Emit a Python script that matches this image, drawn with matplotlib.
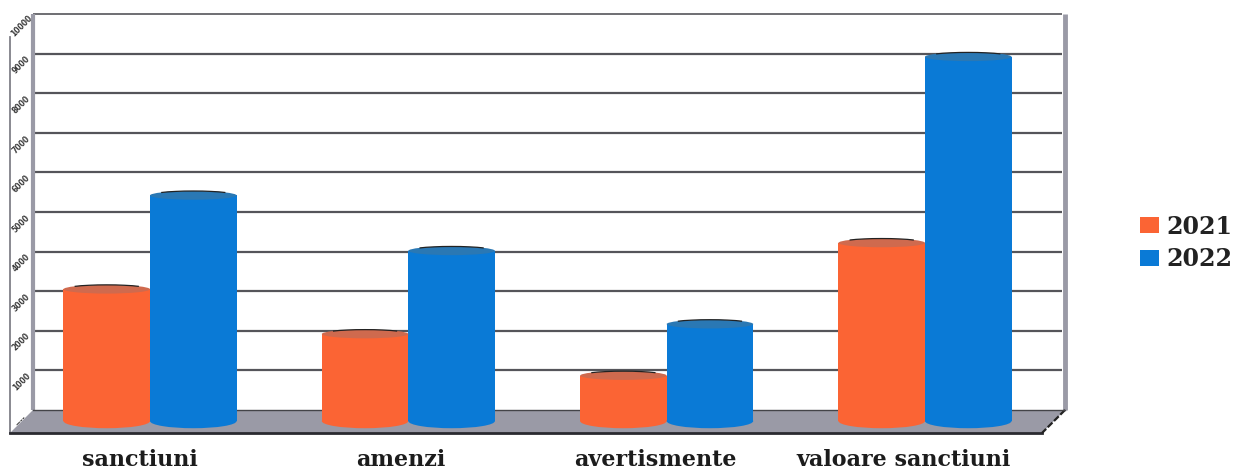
import matplotlib
matplotlib.use('Agg')
import matplotlib.pyplot as plt
from matplotlib.patches import Ellipse, Polygon, Patch, Arc

# Data
categories = ['sanctiuni', 'amenzi', 'avertismente', 'valoare sanctiuni']
years = ['2021', '2022']
vals_2021 = [3.33, 2.2, 1.15, 4.5]
vals_2022 = [5.7, 4.3, 2.45, 9.2]
ticks = list(range(0, 11))
tick_labels = ['', '1000', '2000', '3000', '4000', '5000', '6000', '7000', '8000', '9000', '10000']

col_2021 = '#FB6434'
col_2022 = '#0A7AD6'
top_2021 = '#CF6A4E'
top_2022 = '#2A78B4'
grid_col = '#55555A'
wall_col = '#9A9AA6'

W, H = 1238, 473
fig = plt.figure(figsize=(W/100, H/100), dpi=100)
# axes is the back wall of the fake 3d box
left, right, top, bot = 33, 1065, 14, 410
ax = fig.add_axes([left/W, 1-bot/H, (right-left)/W, (bot-top)/H])
ax.set_xlim(-0.453, 3.542)
ax.set_ylim(0, 10)
ax.axis('off')

# depth of the box in data units
dx = -23/258.3
dy = -23/39.6

# gridlines
for t in ticks[1:]:
    lw = 1.2 if t == 10 else 1.6
    ax.plot([-0.453, 3.53], [t, t], color=grid_col, lw=lw, zorder=1, solid_capstyle='butt', clip_on=False)

# walls
ax.plot([-0.453, -0.453], [0, 10], color=wall_col, lw=3, clip_on=False, zorder=2, solid_capstyle='butt')
ax.plot([3.542, 3.542], [0, 10], color=wall_col, lw=3.5, clip_on=False, zorder=2, solid_capstyle='butt')
ax.plot([-0.453+dx, -0.453+dx], [dy, 10+dy], color='#808088', lw=1.3, clip_on=False, zorder=2)

# floor
floor = Polygon([(-0.453, 0), (3.542, 0), (3.542+dx, dy), (-0.453+dx, dy)], closed=True,
                facecolor='#9A9AA6', edgecolor='none', clip_on=False, zorder=2)
ax.add_patch(floor)
ax.plot([-0.453+dx, 3.542+dx], [dy, dy], color='#2A2A30', lw=2, clip_on=False, zorder=3)
ax.plot([3.542, 3.542+dx], [0, dy], color='#222222', lw=1.6, linestyle=(0, (3, 1)), clip_on=False, zorder=3)
ax.plot([-0.453, 3.542], [0, 0], color='#444448', lw=1, zorder=3, clip_on=False)

# tick labels, slanted along the side wall
for t, lab in zip(ticks, tick_labels):
    ax.text(-0.453+dx*0.5, t+dy*0.5, lab if lab else '----', fontsize=5.5, fontweight='bold', rotation=45,
            color='#3a3a3a', ha='center', va='center', rotation_mode='anchor', clip_on=False, zorder=4)

# cylinders
width = 0.335
base = -0.28
cap_h = 0.11
base_h = 0.18
for i in range(len(categories)):
    for off, v, c, ct in [(-width/2, vals_2021[i], col_2021, top_2021),
                          (width/2, vals_2022[i], col_2022, top_2022)]:
        x = i + off
        ax.bar(x, v, width=width, bottom=base, color=c, zorder=5, clip_on=False)
        ax.add_patch(Ellipse((x, base), width, 2*base_h, facecolor=c, edgecolor='none', zorder=5, clip_on=False))
        ax.add_patch(Ellipse((x, base+v), width, 2*cap_h, facecolor=ct, edgecolor='none', zorder=6, clip_on=False))
        ax.add_patch(Arc((x, base+v), width*0.98, 2*cap_h, theta1=30, theta2=150, color='#222222', lw=0.9, zorder=7, clip_on=False))

# category labels
lab_x = [-0.04, -0.03, -0.043, -0.085]
for i, name in enumerate(categories):
    ax.text(i+lab_x[i], -1.25, name, family='DejaVu Serif', fontweight='bold', fontsize=16,
            color='#1c1c1c', ha='center', va='center', clip_on=False)

# legend
handles = [Patch(facecolor=col_2021, label=years[0]), Patch(facecolor=col_2022, label=years[1])]
leg = fig.legend(handles=handles, loc='center left', bbox_to_anchor=(1140/W, 1-243/H), frameon=False,
                 prop={'family': 'DejaVu Serif', 'weight': 'bold', 'size': 17}, handlelength=0.8, handleheight=0.68,
                 handletextpad=0.33, labelspacing=0.38, borderpad=0, borderaxespad=0, labelcolor='#222222')

plt.savefig('out.png', dpi=100)
